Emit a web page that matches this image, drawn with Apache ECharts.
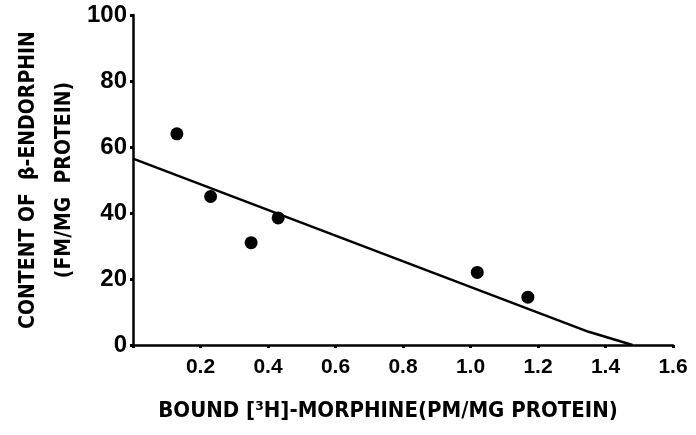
<!DOCTYPE html>
<html>
<head>
<meta charset="utf-8">
<script src="https://cdn.jsdelivr.net/npm/echarts@6/dist/echarts.min.js"></script>
<style>html,body{margin:0;padding:0;background:#fff}#c{width:696px;height:435px}</style>
</head>
<body>
<div id="c"></div>
<script>
// Data
const boundMorphine = [0.13, 0.23, 0.35, 0.43, 1.02, 1.17];
const endorphinContent = [64, 45, 31, 38.5, 22, 14.5];
const fitLineX = [0, 1.35, 1.48];
const fitLineY = [56.5, 4, 0];
const xTicks = [0, 0.2, 0.4, 0.6, 0.8, 1.0, 1.2, 1.4, 1.6];
const yTicks = [0, 20, 40, 60, 80, 100];
const xTitle = 'BOUND [³H]-MORPHINE(PM/MG PROTEIN)';
const yTitleLines = ['CONTENT OF  β-ENDORPHIN', '(FM/MG  PROTEIN)'];

const chart = echarts.init(document.getElementById('c'));
const titleFont = '"Liberation Sans Narrow","DejaVu Sans Condensed","Liberation Sans",sans-serif';
chart.setOption({
  animation: false,
  backgroundColor: '#fff',
  grid: { left: 133, right: 23, top: 15, bottom: 90, containLabel: false, outerBoundsMode: 'none' },
  xAxis: {
    type: 'value', min: xTicks[0], max: xTicks[xTicks.length - 1], interval: 0.2,
    splitLine: { show: false },
    axisLine: { lineStyle: { color: '#000', width: 2.5 } },
    axisTick: { show: true, inside: false, length: 3, lineStyle: { color: '#000', width: 3 } },
    axisLabel: {
      color: '#000', fontSize: 21, fontWeight: 'bold', fontFamily: '"Liberation Sans",Arial,sans-serif', margin: 12,
      formatter: v => (Math.abs(v) < 1e-9 ? '' : v.toFixed(1))
    },
    name: xTitle, nameLocation: 'middle', nameGap: 55, nameMoveOverlap: false,
    nameTextStyle: { color: '#000', fontSize: 22, fontWeight: 'bold', fontFamily: titleFont, padding: [0, 30, 0, 0] }
  },
  yAxis: {
    type: 'value', min: 0, max: 100, interval: 20,
    splitLine: { show: false },
    axisLine: { lineStyle: { color: '#000', width: 2.5 } },
    axisTick: { show: true, inside: false, length: 3, lineStyle: { color: '#000', width: 3 } },
    axisLabel: { color: '#000', fontSize: 24, fontWeight: 'bold', fontFamily: '"Liberation Sans",Arial,sans-serif', margin: 6 },
    name: yTitleLines.join('\n'), nameLocation: 'middle', nameGap: 50, nameRotate: 90, nameMoveOverlap: false,
    nameTextStyle: { color: '#000', fontSize: 21, fontWeight: 'bold', fontFamily: titleFont, lineHeight: 36, align: 'center' }
  },
  series: [
    {
      type: 'line', data: fitLineX.map((x, i) => [x, fitLineY[i]]),
      showSymbol: false, symbol: 'none', lineStyle: { color: '#000', width: 2.5 }, z: 2
    },
    {
      type: 'scatter', data: boundMorphine.map((x, i) => [x, endorphinContent[i]]),
      symbol: 'circle', symbolSize: 13, itemStyle: { color: '#000', opacity: 1 }, z: 3
    }
  ]
});
</script>
</body>
</html>
